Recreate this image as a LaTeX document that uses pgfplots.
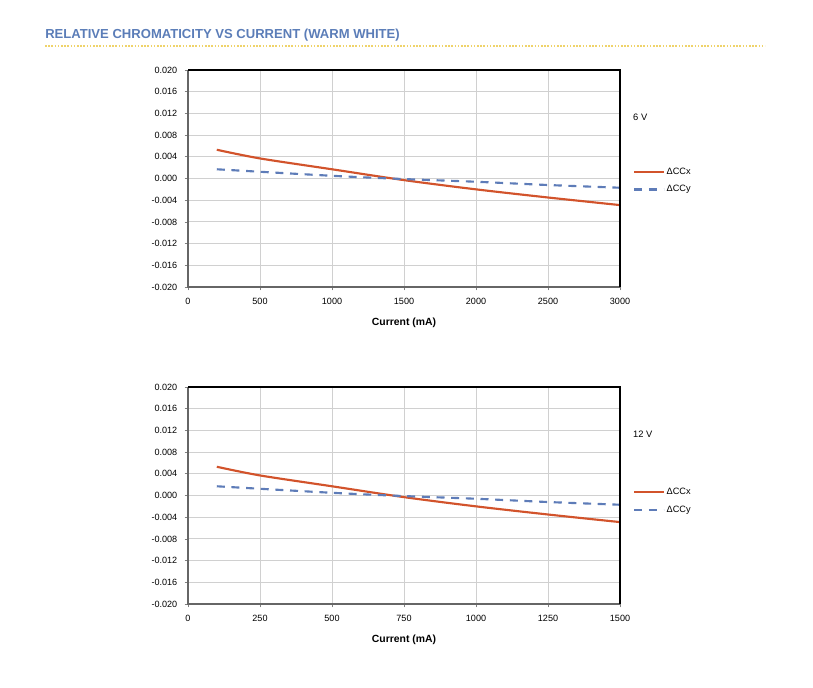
\documentclass[border=0pt]{standalone}
\usepackage{pgfplots}
\pgfplotsset{compat=1.18}
\usepackage{fontspec}
\setmainfont{Liberation Sans}
\definecolor{ccx}{HTML}{D2532B}
\definecolor{ccy}{HTML}{5E7CB8}
\definecolor{ttl}{HTML}{5B7DB8}
\definecolor{dotline}{HTML}{EFD36A}
\definecolor{gridc}{HTML}{D0D0D0}

\pgfplotstableread{
x y
200 0.0053
500 0.0037
1000 0.0017
1500 -0.0003
2000 -0.0020
2500 -0.0035
3000 -0.0049
}\topx
\pgfplotstableread{
x y
200 0.0017
1000 0.0005
1500 -0.0001
2000 -0.0006
2500 -0.0012
3000 -0.0017
}\topy
\pgfplotstableread{
x y
100 0.0053
250 0.0037
500 0.0017
750 -0.0003
1000 -0.0020
1250 -0.0035
1500 -0.0049
}\botx
\pgfplotstableread{
x y
100 0.0017
500 0.0005
750 -0.0001
1000 -0.0006
1250 -0.0012
1500 -0.0017
}\boty

\pgfplotsset{
  chrom/.style={
    scale only axis,
    width=324pt, height=162.75pt,
    ymin=-0.020, ymax=0.020,
    scaled y ticks=false, scaled x ticks=false,
    ytick={-0.020,-0.016,-0.012,-0.008,-0.004,0,0.004,0.008,0.012,0.016,0.020},
    yticklabels={-0.020,-0.016,-0.012,-0.008,-0.004,0.000,0.004,0.008,0.012,0.016,0.020},
    axis line style={draw=none},
    xtick pos=bottom, ytick pos=left,
    grid=major,
    grid style={gridc, line width=0.75pt},
    tick align=outside,
    major tick length=2.5pt,
    tick style={gray, line width=0.6pt},
    ticklabel style={font=\fontsize{6.8pt}{8pt}\selectfont},
    yticklabel style={xshift=-2pt},
    xticklabel style={yshift=-2pt},
    xlabel={\textbf{Current (mA)}},
    xlabel style={font=\fontsize{7.8pt}{9pt}\selectfont, at={(axis description cs:0.5,0)}, anchor=center, yshift=-27pt},
    legend style={draw=none, fill=none, inner sep=0pt, font=\fontsize{6.9pt}{8pt}\selectfont,
      row sep=4pt, legend cell align=left, anchor=west,
      nodes={inner sep=1.5pt}},
    legend image code/.code={\draw[#1] (0pt,0pt) -- (22pt,0pt);},
    clip=false,
  },
  lx/.style={ccx, line width=1.6pt, smooth},
  ly/.style={ccy, line width=1.6pt, dash pattern=on 6pt off 5pt, smooth},
}

\begin{document}
\begin{tikzpicture}[x=0.75pt,y=0.75pt]
\useasboundingbox (0,0) rectangle (813,687);
\node[anchor=west, text=ttl, font=\fontsize{9.8pt}{11pt}\selectfont\bfseries, inner sep=0pt] at (45,652) {RELATIVE CHROMATICITY VS CURRENT (WARM WHITE)};
\draw[dotline, line width=0.8pt, dash pattern=on 1.2pt off 1.2pt] (45,641) -- (765,641);

\begin{axis}[chrom, at={(141pt,300pt)}, anchor=south west,
  xmin=0, xmax=3000, xtick={0,500,1000,1500,2000,2500,3000},
  xticklabels={0,500,1000,1500,2000,2500,3000},
  legend style={at={(axis description cs:1.03,0.49)}}]
\addplot[lx] table {\topx};
\addlegendentry{ΔCCx}
\addplot[ly] table {\topy};
\addlegendentry{ΔCCy}
\draw[gray!80!black, line width=0.8pt] (rel axis cs:0,1) -- (rel axis cs:0,0) -- (rel axis cs:1,0);
\draw[black, line width=0.8pt] (rel axis cs:0,1) -- (rel axis cs:1,1) -- (rel axis cs:1,0);
\node[anchor=west, font=\fontsize{7pt}{8pt}\selectfont, inner sep=0pt] at (axis description cs:1.03,0.783) {6 V};
\end{axis}

\begin{axis}[chrom, at={(141pt,62.25pt)}, anchor=south west,
  xmin=0, xmax=1500, xtick={0,250,500,750,1000,1250,1500},
  xticklabels={0,250,500,750,1000,1250,1500},
  legend style={at={(axis description cs:1.03,0.475)}}]
\addplot[lx] table {\botx};
\addlegendentry{ΔCCx}
\addplot[ly] table {\boty};
\addlegendentry{ΔCCy}
\draw[gray!80!black, line width=0.8pt] (rel axis cs:0,1) -- (rel axis cs:0,0) -- (rel axis cs:1,0);
\draw[black, line width=0.8pt] (rel axis cs:0,1) -- (rel axis cs:1,1) -- (rel axis cs:1,0);
\node[anchor=west, font=\fontsize{7pt}{8pt}\selectfont, inner sep=0pt] at (axis description cs:1.03,0.782) {12 V};
\end{axis}
\end{tikzpicture}
\end{document}
